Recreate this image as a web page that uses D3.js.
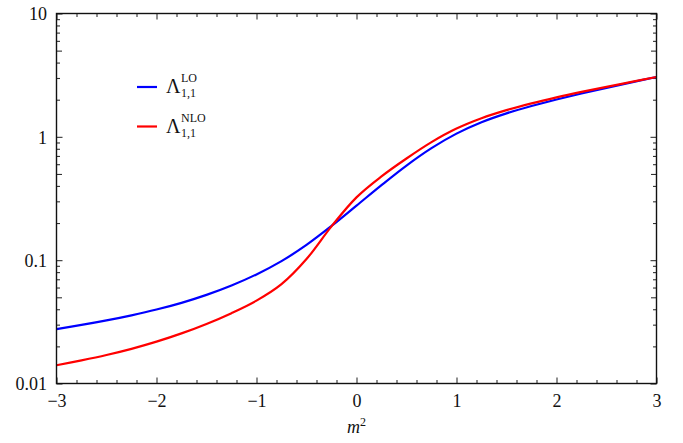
<!DOCTYPE html>
<html>
<head>
<meta charset="utf-8">
<script src="https://cdn.jsdelivr.net/npm/d3@7"></script>
<style>
  body { margin: 0; background: #fff; }
  svg { display: block; }
  text { font-family: "Liberation Serif", "Times New Roman", serif; fill: #111; }
</style>
</head>
<body>
<svg id="chart" width="683" height="443"></svg>
<script>
// Sampled values of the two couplings against m^2 (step 0.25)
const m2 = [-3, -2.75, -2.5, -2.25, -2, -1.75, -1.5, -1.25, -1, -0.75, -0.5, -0.25,
            0, 0.25, 0.5, 0.75, 1, 1.25, 1.5, 1.75, 2, 2.25, 2.5, 2.75, 3];
const lambdaLO  = [0.02761, 0.02983, 0.03248, 0.03572, 0.03978, 0.04509, 0.05232, 0.06233,
                   0.07667, 0.09822, 0.1329, 0.1893, 0.2768, 0.4060, 0.5851, 0.8100,
                   1.0617, 1.3137, 1.5502, 1.7778, 2.0059, 2.2439, 2.4963, 2.7650, 3.0535];
const lambdaNLO = [0.01406, 0.01540, 0.01702, 0.01910, 0.02184, 0.02548, 0.03041, 0.03720,
                   0.04697, 0.06390, 0.10216, 0.1880, 0.3231, 0.4778, 0.6672, 0.9054,
                   1.1663, 1.4147, 1.6451, 1.8672, 2.0890, 2.3134, 2.5445, 2.7861, 3.0560];

const xTicks = [-3, -2, -1, 0, 1, 2, 3];
const yTicks = [0.01, 0.1, 1, 10];
const yTickLabels = ["0.01", "0.1", "1", "10"];

const W = 683, H = 443;
const margin = { left: 56.5, right: 26.5, top: 13.5, bottom: 59.5 };
const x0 = margin.left, x1 = W - margin.right;
const y0 = H - margin.bottom, y1 = margin.top;

const svg = d3.select("#chart");

const x = d3.scaleLinear().domain([-3, 3]).range([x0, x1]);
const y = d3.scaleLog().domain([0.01, 10]).range([y0, y1]);

// minor tick positions
const xMinor = d3.range(-3, 3.0001, 0.2).map(v => +v.toFixed(2)).filter(v => !xTicks.includes(v));
const yMinorShort = [], yMinorMid = [];
[0.01, 0.1, 1].forEach(d => {
  for (let k = 2; k <= 9; k++) (k === 5 ? yMinorMid : yMinorShort).push(+(d * k).toPrecision(3));
});

const fontSize = 18;
const tickColor = "#333";

function styleAxis(g) {
  g.select(".domain").remove();
  g.selectAll(".tick line").attr("stroke", tickColor).attr("stroke-width", 1.1);
  g.selectAll("text").attr("font-size", fontSize).attr("font-family", "Liberation Serif, serif").attr("fill", "#111");
}

const fmtMinus = d => d < 0 ? "\u2212" + Math.abs(d) : String(d);

// bottom axis with labels
svg.append("g").attr("transform", `translate(0,${y0})`)
  .call(d3.axisBottom(x).tickValues(xTicks).tickSize(-6).tickPadding(11).tickFormat(fmtMinus))
  .call(styleAxis);
svg.append("g").attr("transform", `translate(0,${y0})`)
  .call(d3.axisBottom(x).tickValues(xMinor).tickSize(-3.5).tickFormat(""))
  .call(styleAxis);
// top axis mirrored
svg.append("g").attr("transform", `translate(0,${y1})`)
  .call(d3.axisTop(x).tickValues(xTicks).tickSize(-6).tickFormat(""))
  .call(styleAxis);
svg.append("g").attr("transform", `translate(0,${y1})`)
  .call(d3.axisTop(x).tickValues(xMinor).tickSize(-3.5).tickFormat(""))
  .call(styleAxis);

// left axis with labels
svg.append("g").attr("transform", `translate(${x0},0)`)
  .call(d3.axisLeft(y).tickValues(yTicks).tickSize(-6).tickPadding(9.5)
    .tickFormat((d, i) => yTickLabels[i]))
  .call(styleAxis)
  .call(g => g.selectAll("text").attr("dy", "0.36em"));
svg.append("g").attr("transform", `translate(${x0},0)`)
  .call(d3.axisLeft(y).tickValues(yMinorShort).tickSize(-3.5).tickFormat(""))
  .call(styleAxis);
svg.append("g").attr("transform", `translate(${x0},0)`)
  .call(d3.axisLeft(y).tickValues(yMinorMid).tickSize(-5.5).tickFormat(""))
  .call(styleAxis);
// right axis mirrored
svg.append("g").attr("transform", `translate(${x1},0)`)
  .call(d3.axisRight(y).tickValues(yTicks).tickSize(-6).tickFormat(""))
  .call(styleAxis);
svg.append("g").attr("transform", `translate(${x1},0)`)
  .call(d3.axisRight(y).tickValues(yMinorShort).tickSize(-3.5).tickFormat(""))
  .call(styleAxis);
svg.append("g").attr("transform", `translate(${x1},0)`)
  .call(d3.axisRight(y).tickValues(yMinorMid).tickSize(-5.5).tickFormat(""))
  .call(styleAxis);

// clip for curves
svg.append("clipPath").attr("id", "plot-clip")
  .append("rect").attr("x", x0).attr("y", y1).attr("width", x1 - x0).attr("height", y0 - y1);

const line = d3.line().curve(d3.curveCatmullRom.alpha(0.5));
const series = [
  { name: "LO", values: lambdaLO, color: "#0000ff" },
  { name: "NLO", values: lambdaNLO, color: "#ff0000" }
];
svg.append("g").attr("clip-path", "url(#plot-clip)")
  .selectAll("path").data(series).join("path")
  .attr("fill", "none")
  .attr("stroke", d => d.color)
  .attr("stroke-width", 2.2)
  .attr("stroke-linejoin", "round")
  .attr("d", d => line(m2.map((m, i) => [x(m), y(d.values[i])])));

// frame
svg.append("rect")
  .attr("x", x0).attr("y", y1).attr("width", x1 - x0).attr("height", y0 - y1)
  .attr("fill", "none").attr("stroke", "#111").attr("stroke-width", 1.4);

// x-axis title: m^2
const xt = svg.append("text")
  .attr("x", (x0 + x1) / 2).attr("y", 433)
  .attr("text-anchor", "middle").attr("font-size", fontSize);
xt.append("tspan").attr("font-style", "italic").text("m");
xt.append("tspan").attr("font-size", 12).attr("dy", -7).text("2");

// legend: Λ with stacked superscript (order) and subscript (1,1)
const legend = svg.append("g");
const legY = [87, 126.5];
series.forEach((s, i) => {
  const cy = legY[i];
  legend.append("line")
    .attr("x1", 137).attr("x2", 157).attr("y1", cy).attr("y2", cy)
    .attr("stroke", s.color).attr("stroke-width", 2.2);
  legend.append("text").attr("x", 166).attr("y", cy + 6).attr("font-size", 20).text("\u039B");
  legend.append("text").attr("x", 181).attr("y", cy - 5).attr("font-size", 12).text(s.name);
  legend.append("text").attr("x", 181).attr("y", cy + 10).attr("font-size", 12).text("1,1");
});
</script>
</body>
</html>
